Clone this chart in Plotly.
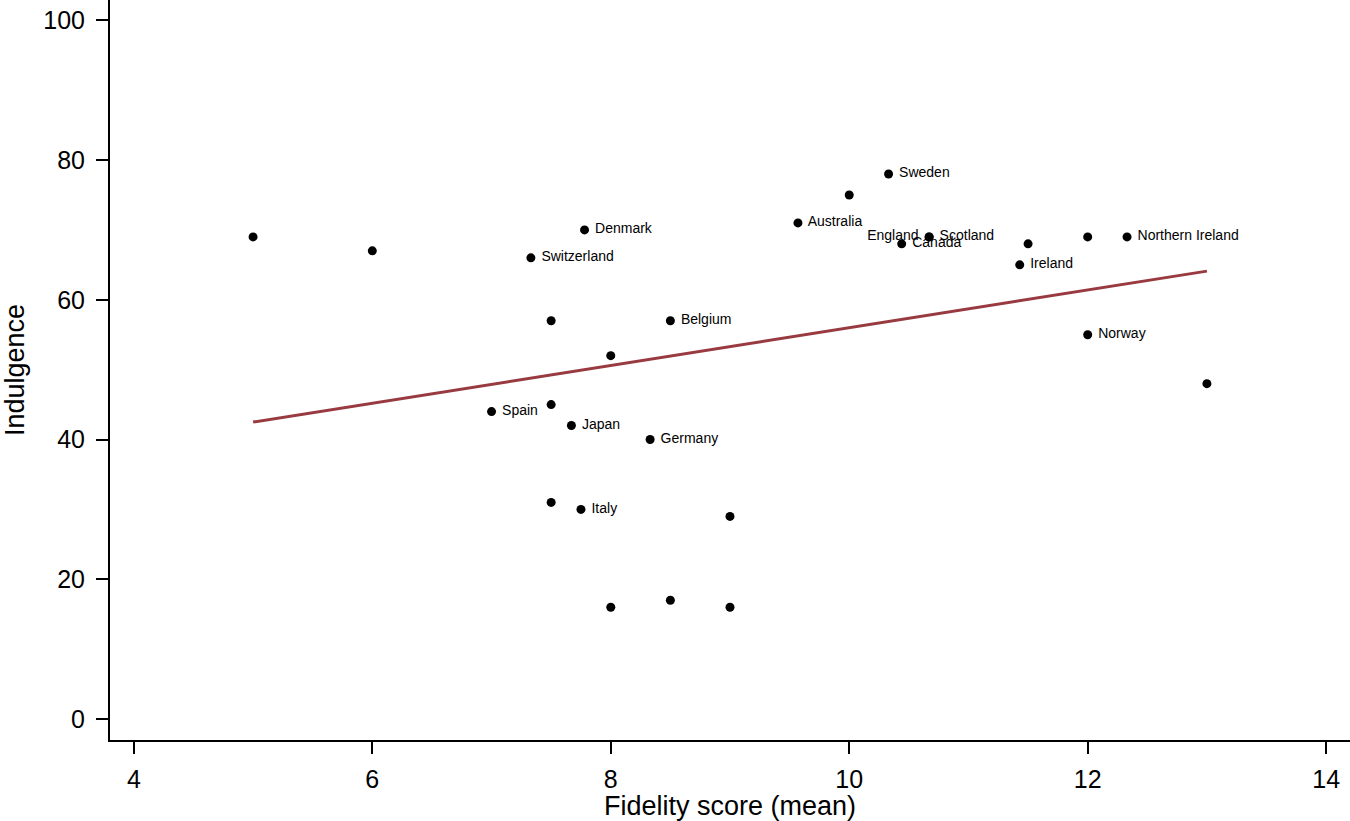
import plotly.graph_objects as go

countries = ["", "", "Switzerland", "Denmark", "", "", "Belgium", "Spain", "", "Japan",
             "Germany", "", "Italy", "", "", "", "", "Australia", "", "Sweden",
             "Scotland", "England", "Canada", "", "Ireland", "", "Northern Ireland", "Norway", ""]
fidelity = [5, 6, 7.33, 7.78, 7.5, 8, 8.5, 7, 7.5, 7.67,
            8.33, 7.5, 7.75, 9, 8, 8.5, 9, 9.57, 10, 10.33,
            10.67, 10.67, 10.44, 11.5, 11.43, 12, 12.33, 12, 13]
indulgence = [69, 67, 66, 70, 57, 52, 57, 44, 45, 42,
              40, 31, 30, 29, 16, 17, 16, 71, 75, 78,
              69, 69, 68, 68, 65, 69, 69, 55, 48]
left_labelled = ["England"]

fit_x = [5, 13]
fit_y = [42.5, 64.1]

x_ticks = [4, 6, 8, 10, 12, 14]
y_ticks = [0, 20, 40, 60, 80, 100]

FONT = "Liberation Sans, Arial, Helvetica, sans-serif"

texts = []
positions = []
for c in countries:
    if c in left_labelled:
        texts.append(c + " ")
        positions.append("middle left")
    elif c:
        texts.append(" " + c)
        positions.append("middle right")
    else:
        texts.append("")
        positions.append("middle right")

fig = go.Figure()
fig.add_trace(go.Scatter(
    x=fidelity, y=indulgence, mode="markers+text",
    text=texts, textposition=positions,
    textfont=dict(family=FONT, size=14, color="black"),
    marker=dict(color="black", size=9),
    showlegend=False, cliponaxis=False,
))
fig.add_trace(go.Scatter(
    x=fit_x, y=fit_y, mode="lines",
    line=dict(color="#983a40", width=3),
    showlegend=False,
))

fig.update_layout(
    width=1350, height=821,
    paper_bgcolor="white", plot_bgcolor="white",
    margin=dict(l=110, r=0, t=0, b=81),
    font=dict(family=FONT, color="black"),
    xaxis=dict(
        range=[3.8, 14.2], tickvals=x_ticks, ticks="outside", ticklen=12, tickwidth=2,
        tickcolor="black", showline=True, linecolor="black", linewidth=2,
        showgrid=False, zeroline=False, tickfont=dict(size=25), ticklabelstandoff=4,
        title=dict(text="Fidelity score (mean)", font=dict(size=27), standoff=10),
    ),
    yaxis=dict(
        range=[-3.0, 102.9], tickvals=y_ticks, ticks="outside", ticklen=12, tickwidth=2,
        tickcolor="black", showline=True, linecolor="black", linewidth=2,
        showgrid=False, zeroline=False, tickfont=dict(size=25), ticklabelstandoff=6,
        title=dict(text="Indulgence", font=dict(size=27), standoff=12),
    ),
)

fig.write_html("out.html", config={"displayModeBar": False},
               post_script="document.body.style.margin='0';")
